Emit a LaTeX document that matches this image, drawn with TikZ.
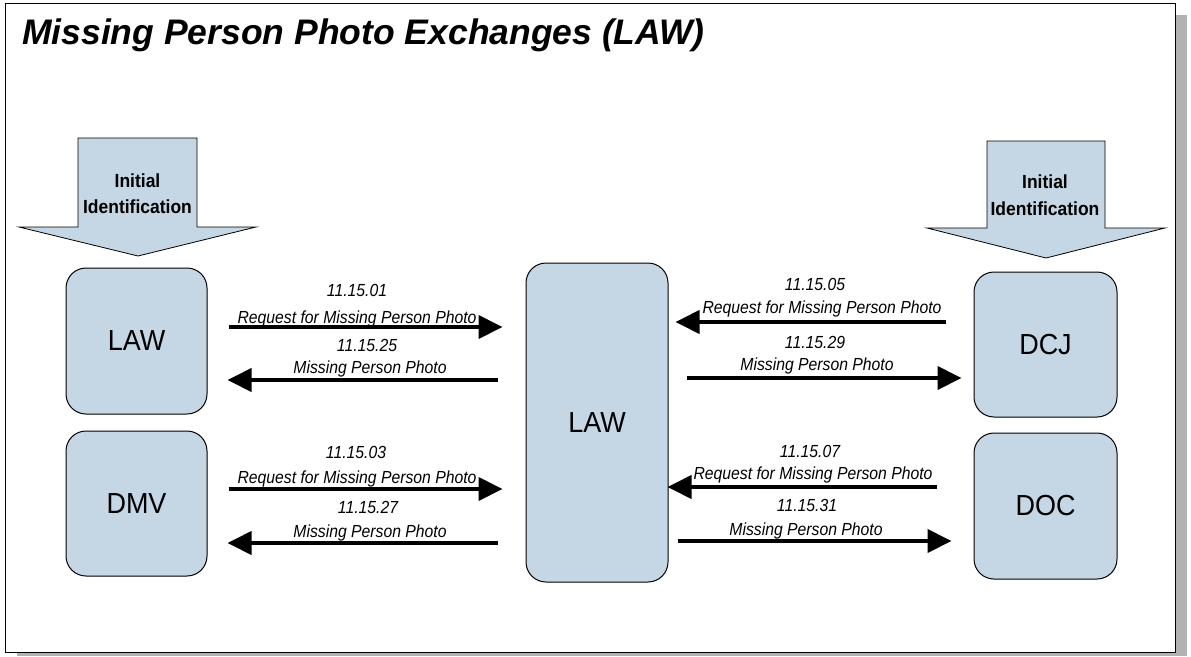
\documentclass[tikz,border=0pt]{standalone}
\usepackage{fontspec}
\setmainfont{Liberation Sans}
\newfontfamily\narrowfont[FakeStretch=0.9]{Liberation Sans}
\newfontfamily\idfont[FakeStretch=0.92]{Liberation Sans}
\newfontfamily\boxfont[FakeStretch=0.93]{Liberation Sans}
\usetikzlibrary{arrows.meta}
\definecolor{boxfill}{RGB}{197,214,228}
\definecolor{shadowgray}{RGB}{178,178,178}
\tikzset{
  ent/.style={draw=black, line width=1pt, fill=boxfill, rounded corners=20pt,
    inner sep=0pt, font=\boxfont\fontsize{29}{32}\selectfont},
  flow/.style={line width=4pt, -{Triangle[length=24pt,width=23pt]}},
  lbl/.style={font=\narrowfont\fontsize{17.5}{20}\selectfont\itshape, anchor=base, inner sep=0pt},
  idtxt/.style={font=\idfont\fontsize{19}{21}\selectfont\bfseries, anchor=base, inner sep=0pt},
  bigarrow/.style={draw=black, line width=0.8pt, fill=boxfill},
  frame/.style={draw=black, line width=1pt, fill=white},
}
\begin{document}
\begin{tikzpicture}[x=1pt, y=-1pt]
\useasboundingbox (0,0) rectangle (1191,656);
\fill[white] (0,0) rectangle (1191,656);
% frame with shadow
\fill[shadowgray] (17,15) rectangle (1187,656);
\draw[frame] (5,3) rectangle (1175,652);
% title
\node[anchor=base west, inner sep=0pt, font=\fontsize{35.5}{40}\selectfont\bfseries\itshape] (title) at (22,44) {Missing Person Photo Exchanges (LAW)};
% block arrows
\draw[bigarrow] (78,138) -- (197,138) -- (197,227) -- (256,227) -- (138,256) -- (19,227) -- (78,227) -- cycle;
\node[idtxt] (idl1) at (137.5,187) {Initial};
\node[idtxt] (idl2) at (137.5,213) {Identification};
\draw[bigarrow] (987,141) -- (1105,141) -- (1105,228) -- (1165,228) -- (1046,258) -- (927,228) -- (987,228) -- cycle;
\node[idtxt] (idr1) at (1045,188) {Initial};
\node[idtxt] (idr2) at (1045,215) {Identification};
% entities
\node[ent, minimum width=141pt, minimum height=146pt] (lawA) at (136.5,341) {LAW};
\node[ent, minimum width=141pt, minimum height=145pt] (dmv) at (136.5,503.5) {DMV};
\node[ent, minimum width=142pt, minimum height=319pt] (law) at (597,422.5) {LAW};
\node[ent, minimum width=143pt, minimum height=145pt] (dcj) at (1045.5,344.5) {DCJ};
\node[ent, minimum width=143pt, minimum height=146pt] (doc) at (1045.5,506) {DOC};
% connectors
\draw[flow] ([xshift=21pt]lawA.east |- 0,327) -- ([xshift=-23pt]law.west |- 0,327);
\draw[flow] ([xshift=-28pt]law.west |- 0,380) -- ([xshift=20pt]lawA.east |- 0,380);
\draw[flow] ([xshift=21pt]dmv.east |- 0,489) -- ([xshift=-23pt]law.west |- 0,489);
\draw[flow] ([xshift=-28pt]law.west |- 0,543) -- ([xshift=20pt]dmv.east |- 0,543);
\draw[flow] ([xshift=-28pt]dcj.west |- 0,322) -- ([xshift=7pt]law.east |- 0,322);
\draw[flow] ([xshift=18pt]law.east |- 0,378) -- ([xshift=-12pt]dcj.west |- 0,378);
\draw[flow] ([xshift=-37pt]doc.west |- 0,487) -- ([xshift=-1pt]law.east |- 0,487);
\draw[flow] ([xshift=9pt]law.east |- 0,541) -- ([xshift=-22pt]doc.west |- 0,541);
% labels
\node[lbl] (l1a) at (357,296) {11.15.01};
\node[lbl] (l1b) at (357,323) {Request for Missing Person Photo};
\node[lbl] (l2a) at (367,351) {11.15.25};
\node[lbl] (l2b) at (370,373) {Missing Person Photo};
\node[lbl] (l3a) at (356,458) {11.15.03};
\node[lbl] (l3b) at (357,483) {Request for Missing Person Photo};
\node[lbl] (l4a) at (368,513) {11.15.27};
\node[lbl] (l4b) at (370,537) {Missing Person Photo};
\node[lbl] (r1a) at (815,290) {11.15.05};
\node[lbl] (r1b) at (822,313) {Request for Missing Person Photo};
\node[lbl] (r2a) at (815,348) {11.15.29};
\node[lbl] (r2b) at (817,370) {Missing Person Photo};
\node[lbl] (r3a) at (810,457) {11.15.07};
\node[lbl] (r3b) at (813,479) {Request for Missing Person Photo};
\node[lbl] (r4a) at (807,511) {11.15.31};
\node[lbl] (r4b) at (806,535) {Missing Person Photo};
\end{tikzpicture}
\end{document}
